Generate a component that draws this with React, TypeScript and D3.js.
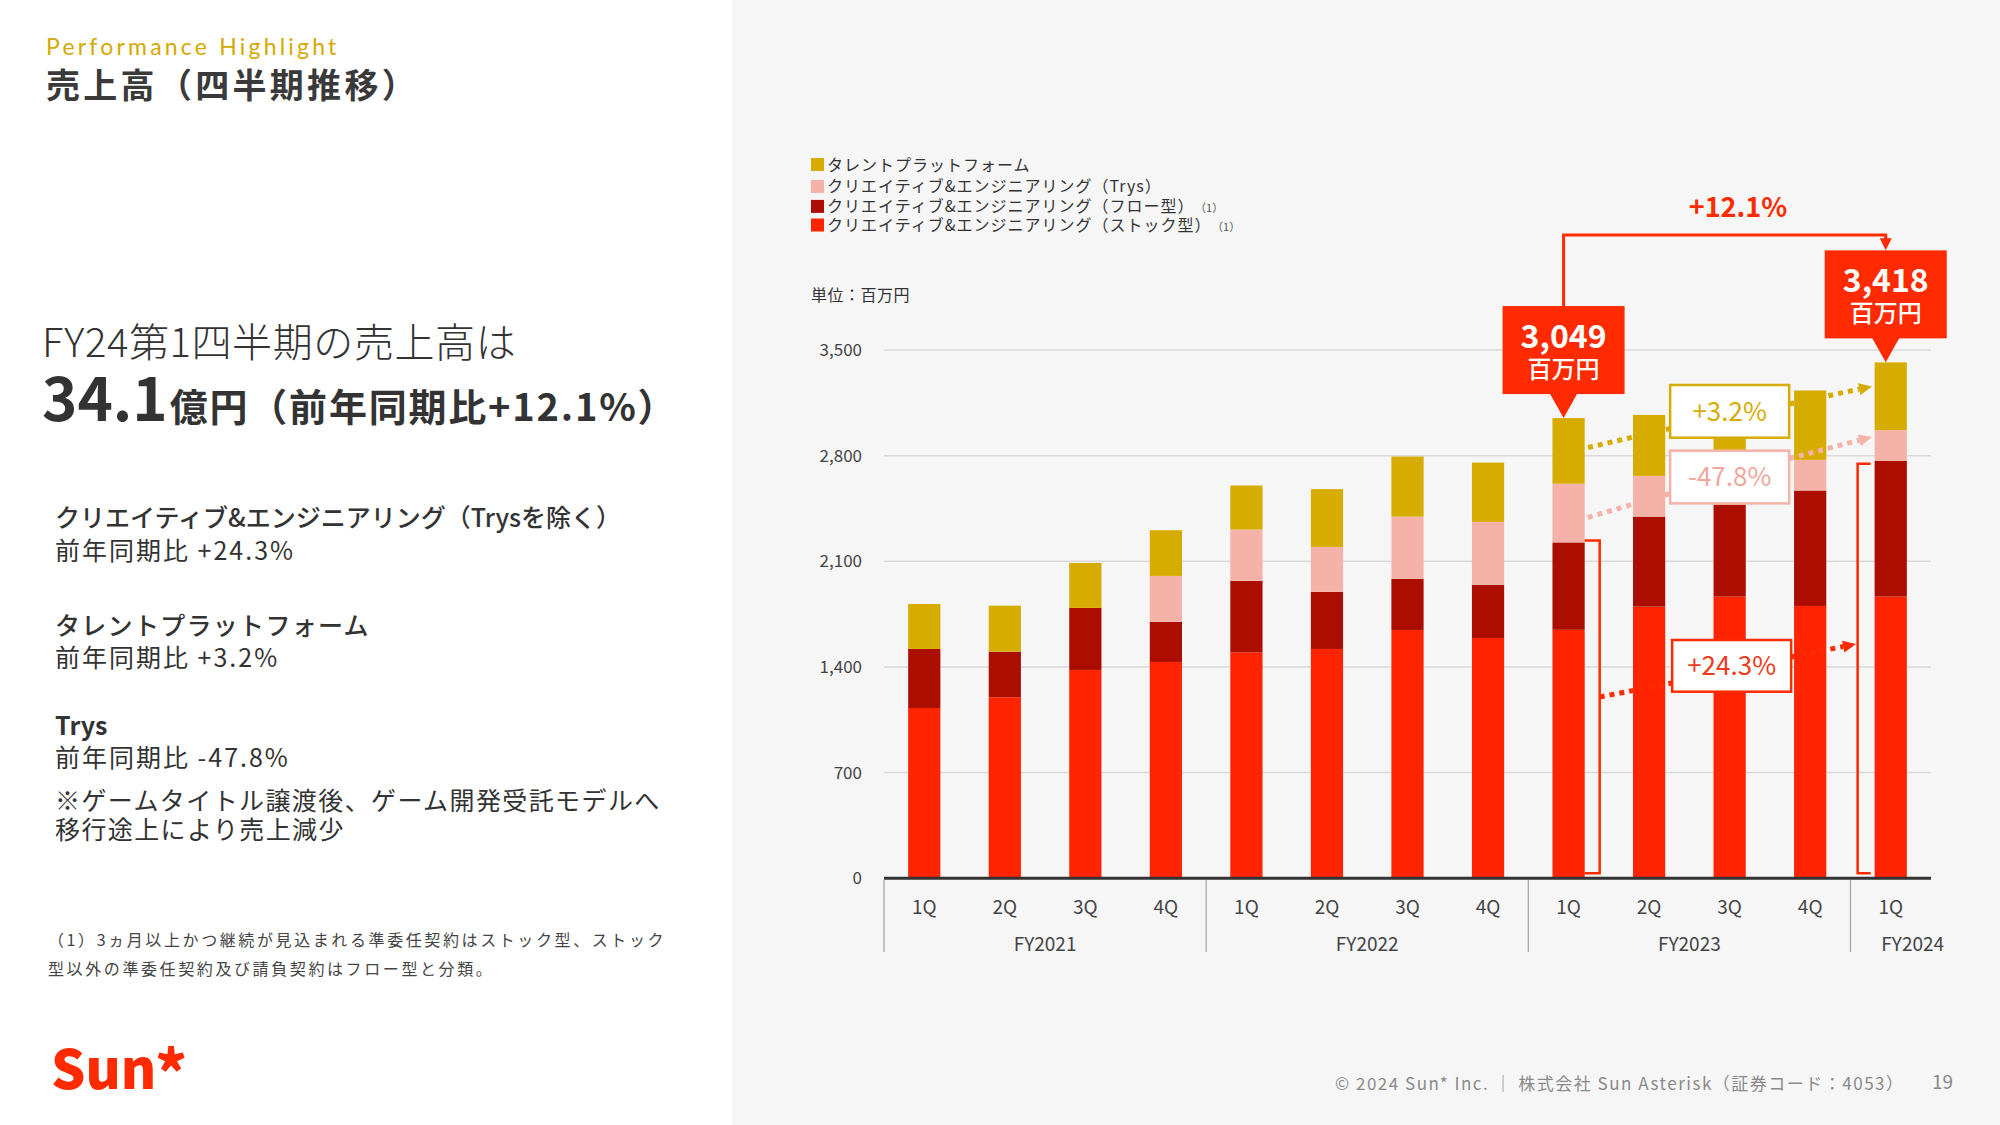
import React from 'react';
import * as d3 from 'd3';

// ---------- data ----------
const quarters = ['1Q', '2Q', '3Q', '4Q', '1Q', '2Q', '3Q', '4Q', '1Q', '2Q', '3Q', '4Q', '1Q'];
const periodIds = quarters.map((_, i) => `p${i}`);
const fiscalYears = ['FY2021', 'FY2022', 'FY2023', 'FY2024'];
const quartersPerYear = [4, 4, 4, 1];
const stock = [1128, 1199, 1380, 1433, 1497, 1519, 1645, 1592, 1646, 1800, 1866, 1804, 1866];
const flow = [391, 302, 411, 265, 473, 378, 338, 352, 579, 596, 610, 765, 900];
const trys = [0, 0, 0, 305, 340, 298, 413, 417, 389, 270, 240, 203, 203];
const talent = [298, 305, 298, 303, 292, 383, 398, 393, 435, 404, 419, 460, 449];
const yTicks = [0, 700, 1400, 2100, 2800, 3500];
const seriesKeys = ['stock', 'flow', 'trys', 'talent'];
const legendKeys = ['talent', 'trys', 'flow', 'stock'];
const legendLabels = [
  'タレントプラットフォーム',
  'クリエイティブ&エンジニアリング（Trys）',
  'クリエイティブ&エンジニアリング（フロー型）',
  'クリエイティブ&エンジニアリング（ストック型）',
];
const legendNotes = ['', '', '（1）', '（1）'];
const yoyTotal = '+12.1%';
const yoyTalent = '+3.2%';
const yoyTrys = '-47.8%';
const yoyCE = '+24.3%';

const colors: Record<string, string> = {
  stock: '#ff2400',
  flow: '#ab0d00',
  trys: '#f5b2a8',
  talent: '#d7ac00',
};

const JP = '"Noto Sans CJK JP", "Noto Sans", sans-serif';
const RED = '#ff2a00';

function Dotted({ x1, y1, x2, y2, color, arrow }: any) {
  const dx = x2 - x1, dy = y2 - y1;
  const len = Math.sqrt(dx * dx + dy * dy);
  const ux = dx / len, uy = dy / len;
  const al = 13, aw = 6;
  const ex = arrow ? x2 - ux * al : x2;
  const ey = arrow ? y2 - uy * al : y2;
  const px = -uy, py = ux;
  return (
    <g>
      <line x1={x1} y1={y1} x2={ex} y2={ey} stroke={color} strokeWidth={5} strokeDasharray="5 5" />
      {arrow && (
        <polygon
          points={`${x2},${y2} ${ex + px * aw},${ey + py * aw} ${ex - px * aw},${ey - py * aw}`}
          fill={color}
        />
      )}
    </g>
  );
}

export default function App() {
  const W = 2000, H = 1125;
  const x = d3.scaleBand<string>().domain(periodIds).range([884, 1931]).paddingInner(0.6).paddingOuter(0.3);
  const y = d3.scaleLinear().domain([0, 3500]).range([878.2, 350]);
  const bw = x.bandwidth();
  const step = x.step();
  const rows = periodIds.map((id, i) => ({ id, stock: stock[i], flow: flow[i], trys: trys[i], talent: talent[i] }));
  const stacked = d3.stack<any>().keys(seriesKeys)(rows);
  const totals = rows.map((r) => r.stock + r.flow + r.trys + r.talent);
  const cx = (i: number) => (x(periodIds[i]) as number) + bw / 2;

  // FY group boundaries
  let acc = 0;
  const groups = fiscalYears.map((fy, gi) => {
    const start = acc;
    acc += quartersPerYear[gi];
    return { fy, start, end: acc - 1 };
  });
  const bandStart = (i: number) => (x(periodIds[i]) as number) - (step - bw) / 2;

  // callouts
  const iPrev = 8, iCur = 12, iMid = 10;
  const callout = (i: number) => {
    const tipY = y(totals[i]);
    const base = tipY - 24;
    const top = base - 88;
    const c = cx(i) - 5;
    return { c, tipY, base, top };
  };
  const c1 = callout(iPrev);
  const c2 = callout(iCur);
  const fmt = d3.format(',');

  const boxW = 119, boxH = 52.7;
  const mid = cx(iMid);
  const talentBoxY = 385, trysBoxY = 450.7, ceBoxY = 640;

  const brAx = (x(periodIds[iPrev]) as number) + bw + 15;
  const brAtop = y(stock[iPrev] + flow[iPrev]) - 2;
  const brBx = (x(periodIds[iCur]) as number) - 17;
  const brBtop = y(stock[iCur] + flow[iCur]) + 3;
  const brBottom = y(0) - 5;

  return (
    <svg width={W} height={H} style={{ position: 'absolute', left: 0, top: 0 }} fontFamily={JP}>
      <rect x={0} y={0} width={732} height={H} fill="#ffffff" />
      <rect x={732} y={0} width={W - 732} height={H} fill="#f6f6f6" />

      {/* ---------- left panel ---------- */}
      <text x={46} y={55} fontFamily='Lato, "Noto Sans", sans-serif' fontSize={23} fontWeight={400} letterSpacing={3.2} fill="#d4a800">
        Performance Highlight
      </text>
      <text x={46} y={98} fontSize={34} fontWeight={700} letterSpacing={3.3} fill="#3a3a3a">
        売上高（四半期推移）
      </text>
      <text x={42} y={357} fontSize={40} fontWeight={300} letterSpacing={0.6} fill="#333">
        FY24第1四半期の売上高は
      </text>
      <text x={42} y={421} fill="#333" fontWeight={700}>
        <tspan fontSize={60}>34.1</tspan>
        <tspan fontSize={38} dx={2} letterSpacing={1.8}>億円（前年同期比+12.1%）</tspan>
      </text>
      <g fontSize={25} fill="#333">
        <text x={55} y={527} fontWeight={500}>クリエイティブ&エンジニアリング（Trysを除く）</text>
        <text x={55} y={560} fontWeight={400} letterSpacing={2}>前年同期比 +24.3%</text>
        <text x={55} y={635} fontWeight={500} letterSpacing={1.3}>タレントプラットフォーム</text>
        <text x={55} y={667} fontWeight={400} letterSpacing={2}>前年同期比 +3.2%</text>
        <text x={55} y={735} fontWeight={700}>Trys</text>
        <text x={55} y={767} fontWeight={400} letterSpacing={2}>前年同期比 -47.8%</text>
        <text x={55} y={810} fontWeight={400} letterSpacing={1.4}>※ゲームタイトル譲渡後、ゲーム開発受託モデルへ</text>
        <text x={55} y={839} fontWeight={400} letterSpacing={1.4}>移行途上により売上減少</text>
      </g>
      <g fontSize={16} letterSpacing={2.6} fill="#444">
        <text x={48} y={946}>（1）3ヵ月以上かつ継続が見込まれる準委任契約はストック型、ストック</text>
        <text x={48} y={975}>型以外の準委任契約及び請負契約はフロー型と分類。</text>
      </g>
      <text x={51} y={1089} fontSize={54} fontWeight={900} fill={RED}>
        Sun<tspan fontSize={60} dx={-1} dy={6}>*</tspan>
      </text>

      {/* ---------- footer ---------- */}
      <text x={1335} y={1090} fontSize={17} letterSpacing={1.5} fill="#8a8a8a">
        © 2024 Sun* Inc. ｜ 株式会社 Sun Asterisk（証券コード：4053）
      </text>
      <text x={1932} y={1089} fontSize={19} fill="#888">19</text>

      {/* ---------- legend ---------- */}
      {legendKeys.map((k, i) => {
        const cy = [164.5, 186.4, 206.4, 225][i];
        return (
          <g key={k}>
            <rect x={811} y={cy - 6.5} width={13} height={13} fill={colors[k]} />
            <text x={827} y={cy + 6} fontSize={16} letterSpacing={1} fill="#333">
              {legendLabels[i]}
              {legendNotes[i] && (
                <tspan fontSize={11} dx={6} letterSpacing={0} fill="#555">{legendNotes[i]}</tspan>
              )}
            </text>
          </g>
        );
      })}
      <text x={811} y={301} fontSize={16} letterSpacing={0.5} fill="#333">単位：百万円</text>

      {/* ---------- grid & y axis ---------- */}
      {yTicks.map((t) => (
        <g key={t}>
          {t > 0 && <line x1={884} x2={1931} y1={y(t)} y2={y(t)} stroke="#d9d9d9" strokeWidth={1.5} />}
          <text x={862} y={y(t)} dy="0.36em" textAnchor="end" fontSize={17} fill="#444">
            {fmt(t)}
          </text>
        </g>
      ))}

      {/* ---------- bars ---------- */}
      {stacked.map((layer: any) => (
        <g key={layer.key} fill={colors[layer.key]}>
          {layer.map((d: any, i: number) =>
            d[1] - d[0] > 0 ? (
              <rect key={i} x={x(periodIds[i])} y={y(d[1])} width={bw} height={y(d[0]) - y(d[1])} />
            ) : null
          )}
        </g>
      ))}

      {/* axis line */}
      <line x1={884} x2={1931} y1={y(0)} y2={y(0)} stroke="#333" strokeWidth={3} />

      {/* ---------- x axis labels ---------- */}
      {quarters.map((q, i) => (
        <text key={i} x={cx(i)} y={913.5} textAnchor="middle" fontSize={19} fill="#444">
          {q}
        </text>
      ))}
      {groups.map((g, gi) => {
        const x0 = bandStart(g.start);
        const x1 = bandStart(g.end) + step;
        const center = g.end === g.start ? cx(g.start) + 22 : (x0 + x1) / 2;
        return (
          <g key={g.fy}>
            <line x1={x0} x2={x0} y1={880} y2={952} stroke="#a0a0a0" strokeWidth={1.2} />
            <text x={center} y={951} textAnchor="middle" fontSize={19} fill="#444">
              {g.fy}
            </text>
          </g>
        );
      })}

      {/* ---------- brackets ---------- */}
      <path
        d={`M${(x(periodIds[iPrev]) as number) + bw},${brAtop} H${brAx} V${brBottom} H${(x(periodIds[iPrev]) as number) + bw}`}
        fill="none" stroke={RED} strokeWidth={2.5}
      />
      <path
        d={`M${(x(periodIds[iCur]) as number) - 4},${brBtop} H${brBx} V${brBottom} H${(x(periodIds[iCur]) as number) - 4}`}
        fill="none" stroke={RED} strokeWidth={2.5}
      />

      {/* ---------- dotted growth lines ---------- */}
      <Dotted x1={cx(iPrev)} y1={452} x2={mid - boxW / 2} y2={428.5} color={colors.talent} />
      <Dotted x1={mid + boxW / 2} y1={404} x2={1872} y2={386.5} color={colors.talent} arrow />
      <Dotted x1={cx(iPrev)} y1={523} x2={mid - boxW / 2} y2={493.5} color={colors.trys} />
      <Dotted x1={mid + boxW / 2} y1={458.5} x2={1872} y2={437} color={colors.trys} arrow />
      <Dotted x1={brAx} y1={697} x2={mid - boxW / 2 + 2} y2={683} color={RED} />
      <Dotted x1={mid + boxW / 2 + 2} y1={657} x2={1856} y2={644} color={RED} arrow />

      {/* ---------- yoy boxes ---------- */}
      <g>
        <rect x={mid - boxW / 2} y={talentBoxY} width={boxW} height={boxH} fill="#fff" stroke={colors.talent} strokeWidth={2.5} />
        <text x={mid} y={talentBoxY + boxH / 2 + 9.4} textAnchor="middle" fontSize={26} fill={colors.talent}>{yoyTalent}</text>
        <rect x={mid - boxW / 2} y={trysBoxY} width={boxW} height={boxH} fill="#fff" stroke={colors.trys} strokeWidth={2.5} />
        <text x={mid} y={trysBoxY + boxH / 2 + 9.4} textAnchor="middle" fontSize={26} fill="#f2a69c">{yoyTrys}</text>
        <rect x={mid - boxW / 2 + 2} y={ceBoxY} width={boxW} height={boxH - 1} fill="#fff" stroke={RED} strokeWidth={2.5} />
        <text x={mid + 2} y={ceBoxY + boxH / 2 + 9} textAnchor="middle" fontSize={26} fill="#ee3b1c">{yoyCE}</text>
      </g>

      {/* ---------- callouts ---------- */}
      {[{ c: c1, i: iPrev }, { c: c2, i: iCur }].map(({ c, i }) => (
        <g key={i}>
          <rect x={c.c - 61} y={c.top} width={122} height={88} fill={RED} />
          <polygon points={`${c.c - 14},${c.base - 1} ${c.c + 14},${c.base - 1} ${c.c},${c.tipY}`} fill={RED} />
          <text x={c.c} y={c.top + 41.5} textAnchor="middle" fontSize={32} fontWeight={700} fill="#fff">
            {fmt(totals[i])}
          </text>
          <text x={c.c} y={c.top + 72} textAnchor="middle" fontSize={24} fontWeight={500} fill="#fff">
            百万円
          </text>
        </g>
      ))}

      {/* top bracket */}
      <path d={`M${c1.c},${c1.top} V235 H${c2.c} V${c2.top - 11}`} fill="none" stroke={RED} strokeWidth={3} />
      <polygon points={`${c2.c - 6},${c2.top - 12} ${c2.c + 6},${c2.top - 12} ${c2.c},${c2.top}`} fill={RED} />
      <text x={1738} y={216.5} textAnchor="middle" fontSize={27} fontWeight={700} fill={RED}>
        {yoyTotal}
      </text>
    </svg>
  );
}
